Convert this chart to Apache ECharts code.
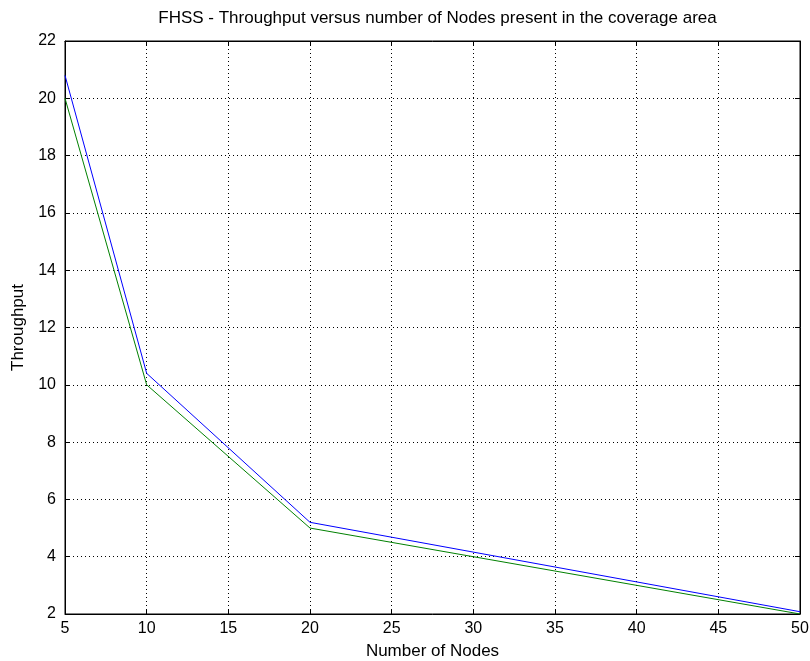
<!DOCTYPE html>
<html>
<head>
<meta charset="utf-8">
<script src="https://cdn.jsdelivr.net/npm/echarts@6/dist/echarts.min.js"></script>
<style>
  html, body { margin: 0; padding: 0; background: #fff; }
  #main { width: 810px; height: 661px; }
</style>
</head>
<body>
<div id="main"></div>
<script>
// values
const nodes = [5, 10, 20, 50];
const blueThroughput = [20.8, 10.4, 5.2, 2.08];
const greenThroughput = [20, 10, 5, 2];
const xTicks = [5, 10, 15, 20, 25, 30, 35, 40, 45, 50];
const yTicks = [2, 4, 6, 8, 10, 12, 14, 16, 18, 20, 22];

const font = 'Liberation Sans, Arial, sans-serif';

function pairs(xs, ys) {
    return xs.map((x, i) => [x, ys[i]]);
}

const grid = {
    left: 65, right: 10, top: 41, bottom: 47,
    outerBoundsMode: 'none',
    show: true, borderColor: '#000', borderWidth: 1
};

const tickLine = { show: true, inside: true, length: 5, lineStyle: { color: '#000' } };
const dotted = { show: true, lineStyle: { color: '#000', type: [1, 3], width: 1 } };

var chart = echarts.init(document.getElementById('main'));

chart.setOption({
    animation: false,
    backgroundColor: '#fff',
    title: {
        text: 'FHSS - Throughput versus number of Nodes present in the coverage area',
        left: 65 + 735 / 2,
        textAlign: 'center',
        top: 5,
        textStyle: { fontFamily: font, fontSize: 17, fontWeight: 'normal', color: '#000' }
    },
    grid: grid,
    xAxis: [{
        type: 'value',
        min: xTicks[0],
        max: xTicks[xTicks.length - 1],
        interval: 5,
        name: 'Number of Nodes',
        nameLocation: 'middle',
        nameGap: 29,
        nameTextStyle: { fontFamily: font, fontSize: 17, color: '#000' },
        axisLine: { show: true, lineStyle: { color: '#000' } },
        axisTick: tickLine,
        axisLabel: { fontFamily: font, fontSize: 16, color: '#000', margin: 7 },
        splitLine: dotted
    }, {
        type: 'value',
        position: 'top',
        min: xTicks[0],
        max: xTicks[xTicks.length - 1],
        interval: 5,
        axisLine: { show: true, lineStyle: { color: '#000' } },
        axisTick: tickLine,
        axisLabel: { show: false },
        splitLine: { show: false }
    }],
    yAxis: [{
        type: 'value',
        min: yTicks[0],
        max: yTicks[yTicks.length - 1],
        interval: 2,
        name: 'Throughput',
        nameLocation: 'middle',
        nameGap: 37,
        nameTextStyle: { fontFamily: font, fontSize: 17, color: '#000' },
        axisLine: { show: true, lineStyle: { color: '#000' } },
        axisTick: tickLine,
        axisLabel: { fontFamily: font, fontSize: 16, color: '#000', margin: 9 },
        splitLine: dotted
    }, {
        type: 'value',
        position: 'right',
        min: yTicks[0],
        max: yTicks[yTicks.length - 1],
        interval: 2,
        axisLine: { show: true, lineStyle: { color: '#000' } },
        axisTick: tickLine,
        axisLabel: { show: false },
        splitLine: { show: false }
    }],
    series: [{
        type: 'line',
        data: pairs(nodes, blueThroughput),
        showSymbol: false,
        lineStyle: { color: '#0000ff', width: 1 },
        itemStyle: { color: '#0000ff' }
    }, {
        type: 'line',
        data: pairs(nodes, greenThroughput),
        showSymbol: false,
        lineStyle: { color: '#008000', width: 1 },
        itemStyle: { color: '#008000' }
    }]
});
</script>
</body>
</html>
